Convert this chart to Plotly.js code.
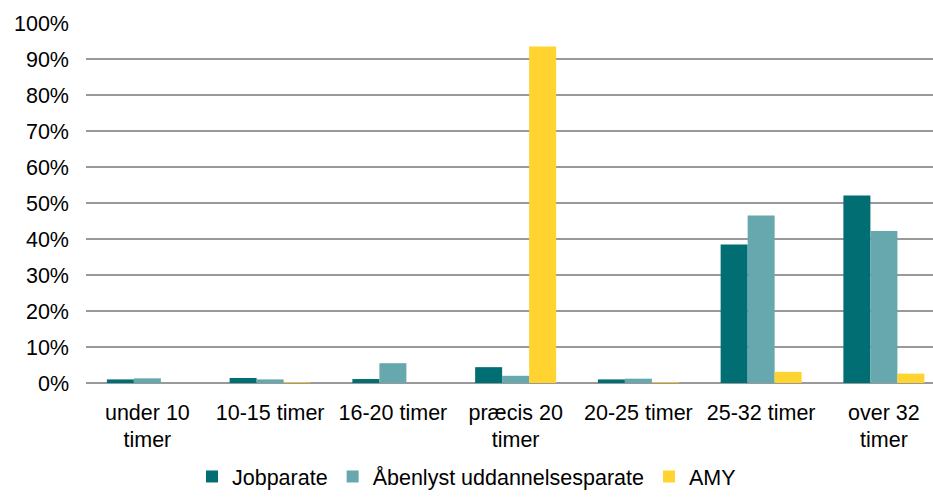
<!DOCTYPE html>
<html>
<head>
<meta charset="utf-8">
<script src="https://cdn.plot.ly/plotly-3.0.1.min.js"></script>
<style>html,body{margin:0;padding:0;overflow:hidden;background:#fff}</style>
</head>
<body>
<div id="chart" style="width:933px;height:497px"></div>
<script>
const categories = ["under 10<br>timer", "10-15 timer", "16-20 timer", "præcis 20<br>timer", "20-25 timer", "25-32 timer", "over 32<br>timer"];
const jobparate = [1.0, 1.4, 1.1, 4.4, 1.0, 38.5, 52.1];
const aabenlyst = [1.3, 1.0, 5.5, 2.0, 1.2, 46.5, 42.2];
const amy = [0.0, 0.2, 0.0, 93.5, 0.2, 3.1, 2.6];
const yTicks = [0, 10, 20, 30, 40, 50, 60, 70, 80, 90, 100];

const idx = categories.map((c, i) => i);
const font = {family: "Liberation Sans, Arial, sans-serif", size: 21.5, color: "#000"};

const traces = [
  {type: "bar", name: "Jobparate", x: idx, y: jobparate, marker: {color: "#006E73"}},
  {type: "bar", name: "Åbenlyst uddannelsesparate", x: idx, y: aabenlyst, marker: {color: "#66A8AD"}},
  {type: "bar", name: "AMY", x: idx, y: amy, marker: {color: "#FFD330"}}
];

const layout = {
  width: 933, height: 497,
  margin: {l: 86, r: 0, t: 23, b: 114, autoexpand: false},
  paper_bgcolor: "#fff", plot_bgcolor: "#fff",
  font: font,
  barmode: "group", bargap: 0.34, bargroupgap: 0,
  showlegend: true,
  legend: {orientation: "h", x: 0.5, xanchor: "center", xref: "container", yref: "container", y: 0.0, yanchor: "bottom", font: font, traceorder: "normal"},
  xaxis: {
    range: [-0.5, 6.4], tickmode: "array", tickvals: idx, ticktext: categories, automargin: false,
    showgrid: false, zeroline: false, showline: false, ticks: "", tickfont: font, ticklabelstandoff: 14, fixedrange: true
  },
  yaxis: {
    range: [0, 100], tickmode: "array", tickvals: yTicks, ticktext: yTicks.map(v => v + "%"), automargin: false,
    showgrid: true, gridcolor: "#999", gridwidth: 1.5, zeroline: true, zerolinecolor: "#999", zerolinewidth: 1.5,
    showline: false, ticks: "", tickfont: font, ticklabelstandoff: 16, fixedrange: true
  }
};

Plotly.newPlot("chart", traces, layout, {displayModeBar: false, staticPlot: true});
</script>
</body>
</html>
